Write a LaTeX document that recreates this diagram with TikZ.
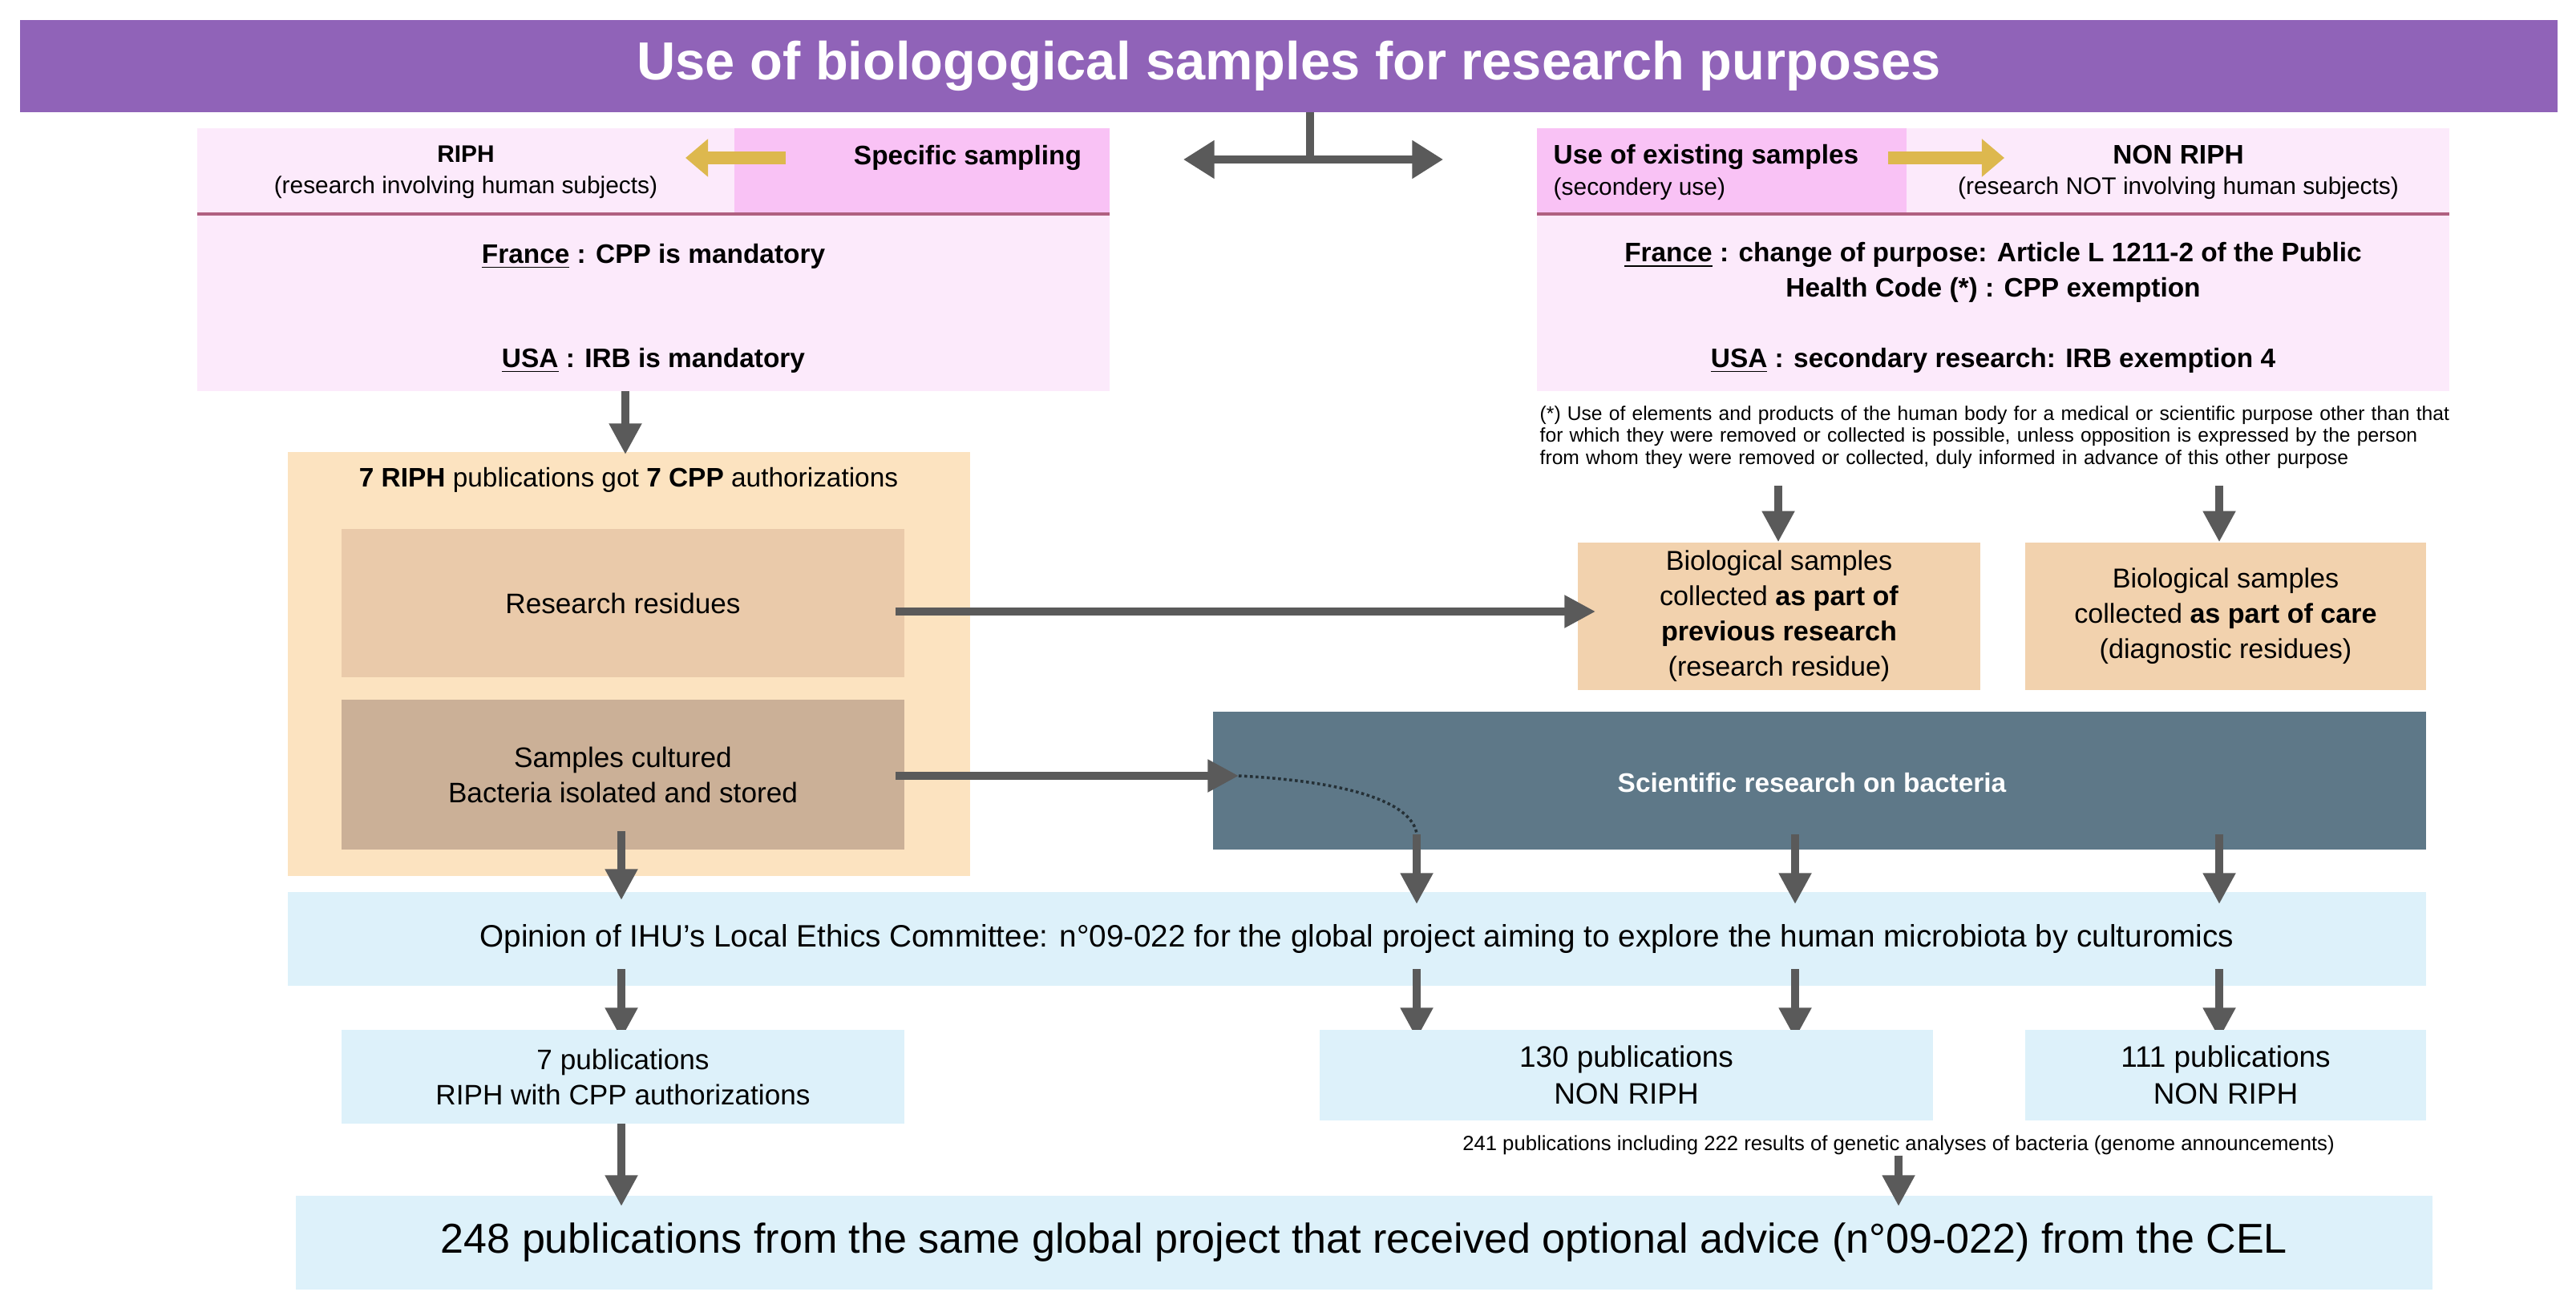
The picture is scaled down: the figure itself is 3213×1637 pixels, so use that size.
\documentclass[tikz,border=0pt]{standalone}
\usepackage{fontspec}
\setmainfont{Liberation Sans}
\usetikzlibrary{arrows.meta}
\definecolor{purp}{HTML}{9063B8}
\definecolor{lpink}{HTML}{FCEAFB}
\definecolor{pink}{HTML}{F9C2F5}
\definecolor{lorange}{HTML}{FCE3C0}
\definecolor{tan}{HTML}{EACAAA}
\definecolor{dtan}{HTML}{CBB097}
\definecolor{btan}{HTML}{F2D2AE}
\definecolor{lblue}{HTML}{DDF1FA}
\definecolor{dslate}{HTML}{5E7888}
\definecolor{agray}{HTML}{5A5A5A}
\definecolor{gold}{HTML}{DDB84E}
\definecolor{hline}{HTML}{B06080}
\tikzset{
 box/.style={draw=none,inner sep=0pt,align=center,font=\fontsize{10}{12.5}\selectfont},
 garrow/.style={agray,line width=2.6pt,-{Triangle[length=11pt,width=11pt]}},
 yarrow/.style={gold,line width=4.5pt,-{Triangle[length=8pt,width=13pt]}},
}
\newcommand{\bx}[6]{\node[box,fill=#5,minimum width={(#3-#1)*0.01cm},minimum height={(#4-#2)*0.01cm}] (#6) at ({(#1+#3)/2},{(#2+#4)/2}) {};}
\begin{document}
\begin{tikzpicture}[x=0.01cm,y=-0.01cm]
\useasboundingbox (0,0) rectangle (3213,1637);
\fill[white] (0,0) rectangle (3213,1637);
% title
\bx{25}{25}{3190}{140}{purp}{title}
\node[text=white,font=\bfseries\fontsize{19}{21}\selectfont] at (title) {Use of biologogical samples for research purposes};
% left header
\bx{246}{160}{1384}{488}{lpink}{lbody}
\bx{916}{160}{1384}{267}{pink}{spec}
\draw[hline,line width=1.2pt] (246,267) -- (1384,267);
\node[box,font=\fontsize{8.5}{11}\selectfont] (riph) at (581,215) {\textbf{RIPH}\\(research involving human subjects)};
\node[box,font=\bfseries\fontsize{9.5}{11}\selectfont] (spt) at (1207,197) {Specific sampling};
\draw[yarrow] (980,197) -- (855,197);
\node[box,font=\bfseries\fontsize{9.5}{12}\selectfont] (fr) at (815,320) {\underline{France} : CPP is mandatory};
\node[box,font=\bfseries\fontsize{9.5}{12}\selectfont] (usa) at (815,450) {\underline{USA} : IRB is mandatory};
% right header
\bx{1917}{160}{3055}{488}{lpink}{rbody}
\bx{1917}{160}{2378}{267}{pink}{exist}
\draw[hline,line width=1.2pt] (1917,267) -- (3055,267);
\node[box,align=left,anchor=west,font=\fontsize{8.5}{11}\selectfont] (ext) at (1937,215) {\textbf{\fontsize{9.5}{11}\selectfont Use of existing samples}\\(secondery use)};
\node[box,font=\fontsize{8.5}{11}\selectfont] (nonriph) at (2717,215) {\textbf{\fontsize{9.5}{11}\selectfont NON RIPH}\\(research NOT involving human subjects)};
\draw[yarrow] (2355,197) -- (2500,197);
\node[box,font=\bfseries\fontsize{9.5}{12.5}\selectfont] (frr) at (2486,340) {\underline{France} : change of purpose: Article L 1211-2 of the Public\\Health Code (*) : CPP exemption};
\node[box,font=\bfseries\fontsize{9.5}{12}\selectfont] (usar) at (2486,450) {\underline{USA} : secondary research: IRB exemption 4};
\node[box,align=left,anchor=north west,text width=11.4cm,font=\fontsize{7}{7.8}\selectfont] (foot) at (1920,506) {(*) Use of elements and products of the human body for a medical or scientific purpose other than that for which they were removed or collected is possible, unless opposition is expressed by the person from whom they were removed or collected, duly informed in advance of this other purpose};
% central double arrow
\coordinate (dl) at (1476,199);
\coordinate (dr) at (1800,199);
\coordinate (dtop) at (1634,140);
\coordinate (dmid) at (1634,199);
\draw[agray,line width=2.6pt,{Triangle[length=11pt,width=13pt]}-{Triangle[length=11pt,width=13pt]}] (dl) -- (dr);
\draw[agray,line width=2.6pt] (dtop) -- (dmid);
% left orange block
\bx{359}{564}{1210}{1093}{lorange}{orange}
\node[box,font=\fontsize{9.5}{12}\selectfont] (ot) at (784,599) {\textbf{7 RIPH} publications got \textbf{7 CPP} authorizations};
\bx{426}{660}{1128}{845}{tan}{resid}
\node[box] at (resid) {Research residues};
\bx{426}{873}{1128}{1060}{dtan}{cult}
\node[box] at (cult) {Samples cultured\\Bacteria isolated and stored};
\coordinate (a0) at (780,488);
\draw[garrow] (a0) -- (780,567);
% bio boxes
\bx{1968}{677}{2470}{861}{btan}{bio1}
\node[box,font=\fontsize{9.7}{12.5}\selectfont] at (bio1) {Biological samples\\collected \textbf{as part of}\\\textbf{previous research}\\(research residue)};
\bx{2526}{677}{3026}{861}{btan}{bio2}
\node[box,font=\fontsize{9.7}{12.5}\selectfont] at (bio2) {Biological samples\\collected \textbf{as part of care}\\(diagnostic residues)};
\coordinate (f1) at (2218,606);
\coordinate (f2) at (2768,606);
\draw[garrow] (f1) -- (bio1.north -| f1);
\draw[garrow] (f2) -- (bio2.north -| f2);
% dark box
\bx{1513}{888}{3026}{1060}{dslate}{sci}
\node[box,text=white,font=\bfseries\fontsize{9.5}{12}\selectfont] at (2260,977) {Scientific research on bacteria};
\coordinate (r1) at (1117,763);
\coordinate (r2) at (1117,968);
\draw[garrow] (r1) -- (1990,763);
\draw[garrow] (r2) -- (1545,968);
\draw[dslate!40!black,densely dotted,line width=1pt] (1545,968) .. controls (1680,975) and (1760,1000) .. (1767,1040);
% ethics
\bx{359}{1113}{3026}{1230}{lblue}{eth}
\node[box,font=\fontsize{11}{13}\selectfont] at (eth) {Opinion of IHU’s Local Ethics Committee: n°09-022 for the global project aiming to explore the human microbiota by culturomics};
\foreach \xx in {1767,2239,2768}{\draw[garrow] (\xx,1041) -- (\xx,1128);}
\draw[garrow] (775,1037) -- (775,1123);
\foreach \xx in {775,1767,2239,2768}{\draw[garrow] (\xx,1209) -- (\xx,1296);}
% pubs
\bx{426}{1285}{1128}{1402}{lblue}{p7}
\node[box] at (p7) {7 publications\\RIPH with CPP authorizations};
\bx{1646}{1285}{2411}{1398}{lblue}{p130}
\node[box,font=\fontsize{10.5}{13}\selectfont] at (p130) {130 publications\\NON RIPH};
\bx{2526}{1285}{3026}{1398}{lblue}{p111}
\node[box,font=\fontsize{10.5}{13}\selectfont] at (p111) {111 publications\\NON RIPH};
\node[box,font=\fontsize{7.3}{8}\selectfont] (t241) at (2368,1429) {241 publications including 222 results of genetic analyses of bacteria (genome announcements)};
\bx{369}{1492}{3034}{1609}{lblue}{final}
\node[box,font=\fontsize{14.8}{16}\selectfont] at (final) {248 publications from the same global project that received optional advice (n°09-022) from the CEL};
\coordinate (p7b) at (775,1402);
\draw[garrow] (p7b) -- (775,1505);
\draw[garrow] (t241.south) -- (2368,1505);
\end{tikzpicture}
\end{document}
